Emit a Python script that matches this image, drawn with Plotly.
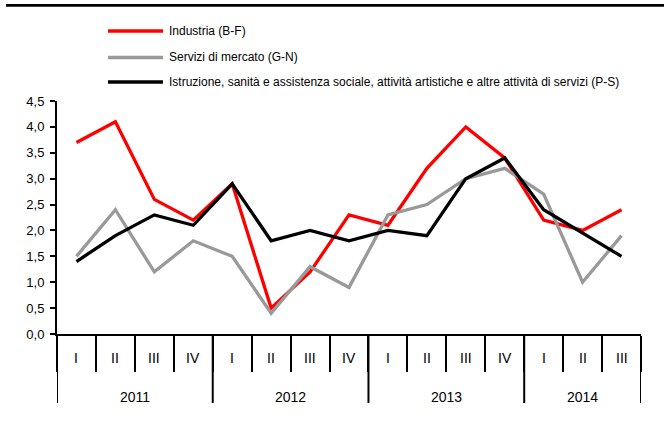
import plotly.graph_objects as go

years = ["2011"] * 4 + ["2012"] * 4 + ["2013"] * 4 + ["2014"] * 3
quarters = ["I", "II", "III", "IV"] * 3 + ["I", "II", "III"]

industria = [3.7, 4.1, 2.6, 2.2, 2.9, 0.5, 1.2, 2.3, 2.1, 3.2, 4.0, 3.4, 2.2, 2.0, 2.4]
servizi = [1.5, 2.4, 1.2, 1.8, 1.5, 0.4, 1.3, 0.9, 2.3, 2.5, 3.0, 3.2, 2.7, 1.0, 1.9]
istruzione = [1.4, 1.9, 2.3, 2.1, 2.9, 1.8, 2.0, 1.8, 2.0, 1.9, 3.0, 3.4, 2.4, 1.95, 1.5]

names = [
    "Industria (B-F)",
    "Servizi di mercato (G-N)",
    "Istruzione, sanità e assistenza sociale, attività artistiche e altre attività di servizi (P-S)",
]
series = [industria, servizi, istruzione]
colors = ["#FF0000", "#999999", "#000000"]

# category keys (one per quarter)
cats = [f"{q} {y}" for q, y in zip(quarters, years)]

W, H = 664, 427
L, R, T, B = 57, 23, 101, 93
PW, PH = W - L - R, H - T - B
AXIS_Y = H - B  # pixel row of the x axis


def py(pix):
    """page pixel row -> paper y"""
    return (AXIS_Y - pix) / PH


def px(pix):
    return (pix - L) / PW


FONT = "Liberation Sans, Arial, sans-serif"

fig = go.Figure()
for i, (nm, vals, col) in enumerate(zip(names, series, colors)):
    fig.add_trace(go.Scatter(
        x=cats, y=vals, name=nm, mode="lines",
        line=dict(color=col, width=3.3), showlegend=False,
    ))

annotations = []
shapes = []

# legend (key line + label for each series)
legend_rows = [31, 57.5, 82]
for nm, col, row in zip(names, colors, legend_rows):
    shapes.append(dict(
        type="line", xref="paper", yref="paper",
        x0=px(108), x1=px(163), y0=py(row), y1=py(row),
        line=dict(color=col, width=3.3),
    ))
    annotations.append(dict(
        x=px(167), y=py(row), xref="paper", yref="paper", text=nm,
        showarrow=False, xanchor="left", yanchor="middle",
        font=dict(family=FONT, size=12, color="black"),
    ))

for c, q in zip(cats, quarters):
    annotations.append(dict(
        x=c, y=py(358), xref="x", yref="paper", text=q, showarrow=False,
        xanchor="center", yanchor="middle",
        font=dict(family=FONT, size=14, color="black"),
    ))

# year groups
uniq = []
for y in years:
    if y not in uniq:
        uniq.append(y)
bounds = [-0.5]
for y in uniq:
    idx = [k for k, yy in enumerate(years) if yy == y]
    annotations.append(dict(
        x=(idx[0] + idx[-1]) / 2, y=py(396.5), xref="x", yref="paper", text=y,
        showarrow=False, xanchor="center", yanchor="middle",
        font=dict(family=FONT, size=14, color="black"),
    ))
    bounds.append(idx[-1] + 0.5)
for b in bounds:
    shapes.append(dict(
        type="line", xref="x", yref="paper", x0=b, x1=b, y0=0, y1=py(403),
        line=dict(color="black", width=2),
    ))

shapes.append(dict(
    type="line", xref="paper", yref="paper",
    x0=px(6), x1=px(W), y0=py(5.3), y1=py(5.3),
    line=dict(color="black", width=2.7),
))

fig.update_layout(
    width=W, height=H,
    margin=dict(l=L, r=R, t=T, b=B),
    plot_bgcolor="white", paper_bgcolor="white",
    separators=", ",
    font=dict(family=FONT, size=13, color="black"),
    showlegend=False,
    xaxis=dict(
        type="category", range=[-0.5, len(cats) - 0.5],
        showline=True, linecolor="black", linewidth=2,
        ticks="outside", tickson="boundaries", ticklen=36, tickwidth=2, tickcolor="black",
        showticklabels=False, showgrid=False, zeroline=False,
    ),
    yaxis=dict(
        range=[0, 4.5], dtick=0.5, tick0=0, tickformat=".1f",
        showline=True, linecolor="black", linewidth=2,
        ticks="outside", ticklen=5, tickwidth=2, tickcolor="black",
        ticklabelstandoff=3,
        showgrid=False, zeroline=False,
    ),
    shapes=shapes,
    annotations=annotations,
)

fig.write_html(
    "out.html",
    config={"displayModeBar": False},
    post_script="document.body.style.margin='0';",
)
